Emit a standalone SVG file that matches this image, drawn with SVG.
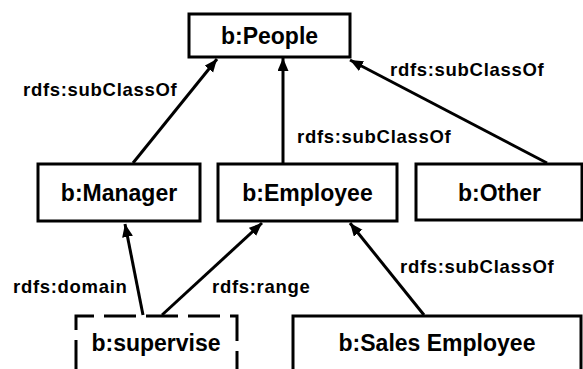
<svg xmlns="http://www.w3.org/2000/svg" width="583" height="369" viewBox="0 0 583 369">
<style>
.box{fill:#fff;stroke:#000;stroke-width:3}
.dash{fill:none;stroke:#000;stroke-width:3;stroke-dasharray:32 10}
.node{font-family:"Liberation Sans",Arial,sans-serif;font-weight:bold;font-size:23px;text-anchor:middle;fill:#000}
.lbl{font-family:"Liberation Sans",Arial,sans-serif;font-weight:bold;font-size:18.5px;letter-spacing:0.7px;fill:#000}
.edge{stroke:#000;stroke-width:3;fill:none;marker-end:url(#arr)}
</style>
<defs>
<marker id="arr" markerUnits="userSpaceOnUse" markerWidth="14" markerHeight="12" refX="13" refY="5.5" orient="auto">
<path d="M0,0 L13,5.5 L0,11 Z" fill="#000"/>
</marker>
</defs>
<rect width="583" height="369" fill="#fff"/>
<g id="connectors">
<line class="edge" x1="133" y1="163" x2="217" y2="59"/>
<line class="edge" x1="283" y1="163" x2="283" y2="58"/>
<line class="edge" x1="547" y1="163" x2="350" y2="60"/>
<line class="edge" x1="143" y1="315" x2="125" y2="224"/>
<line class="edge" x1="162" y1="315" x2="262" y2="223"/>
<line class="edge" x1="424" y1="315" x2="350" y2="223"/>
<text class="lbl" x="23" y="96">rdfs:subClassOf</text>
<text class="lbl" x="297" y="143">rdfs:subClassOf</text>
<text class="lbl" x="390" y="76">rdfs:subClassOf</text>
<text class="lbl" x="13" y="293">rdfs:domain</text>
<text class="lbl" x="212" y="293">rdfs:range</text>
<text class="lbl" x="400" y="273">rdfs:subClassOf</text>
</g>
<g id="people">
<rect class="box" x="189" y="14" width="161" height="43"/>
<text class="node" x="269.5" y="44">b:People</text>
</g>
<g id="manager">
<rect class="box" x="38" y="164" width="162" height="57"/>
<text class="node" x="119" y="201">b:Manager</text>
</g>
<g id="employee">
<rect class="box" x="218" y="164" width="179" height="57"/>
<text class="node" x="307.5" y="201">b:Employee</text>
</g>
<g id="other">
<rect class="box" x="416" y="164" width="166" height="56"/>
<text class="node" x="499.5" y="201">b:Other</text>
</g>
<g id="supervise">
<path class="dash" d="M76,380 L76,316 L237,316 L237,380" stroke-dashoffset="-8"/>
<text class="node" x="156" y="351">b:supervise</text>
</g>
<g id="sales-employee">
<rect class="box" x="293" y="316" width="288" height="70"/>
<text class="node" x="437" y="351">b:Sales Employee</text>
</g>
</svg>
